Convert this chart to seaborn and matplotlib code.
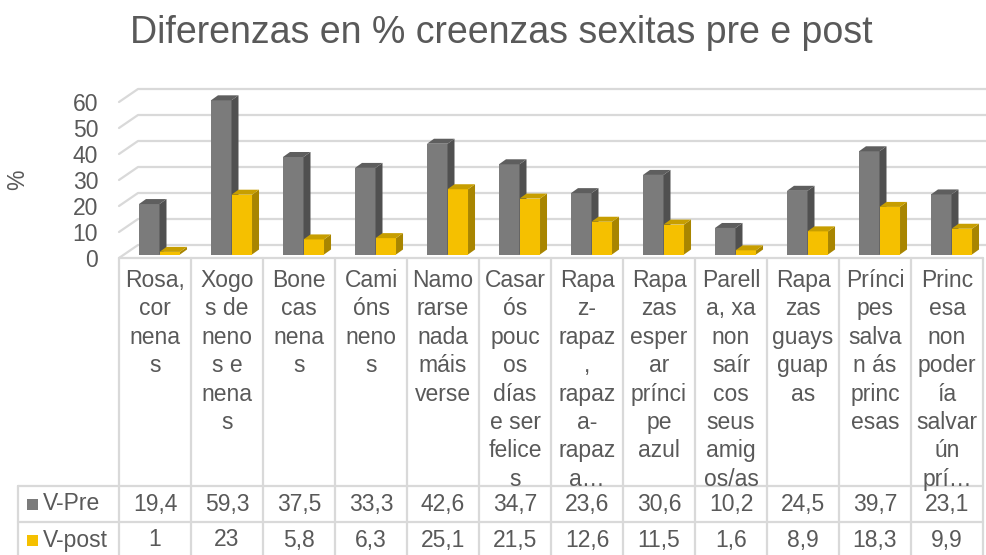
import matplotlib
matplotlib.use('Agg')
import matplotlib.pyplot as plt
from matplotlib.lines import Line2D
from matplotlib.patches import Polygon, Rectangle
from matplotlib.transforms import IdentityTransform, ScaledTranslation
import numpy as np
import pandas as pd
import seaborn as sns

# category texts, wrapped the same way as in the original data table
categorias = [
    'Rosa,\ncor\nnena\ns',
    'Xogo\ns de\nneno\ns e\nnena\ns',
    'Bone\ncas\nnena\ns',
    'Cami\nóns\nneno\ns',
    'Namo\nrarse\nnada\nmáis\nverse',
    'Casar\nós\npouc\nos\ndías\ne ser\nfelice\ns',
    'Rapa\nz-\nrapaz\n,\nrapaz\na-\nrapaz\na…',
    'Rapa\nzas\nesper\nar\nprínci\npe\nazul',
    'Parell\na, xa\nnon\nsaír\ncos\nseus\namig\nos/as',
    'Rapa\nzas\nguays\nguap\nas',
    'Prínci\npes\nsalva\nn ás\nprinc\nesas',
    'Princ\nesa\nnon\npoder\nía\nsalvar\nún\nprí…',
]
v_pre = [19.4, 59.3, 37.5, 33.3, 42.6, 34.7, 23.6, 30.6, 10.2, 24.5, 39.7, 23.1]
v_post = [1, 23, 5.8, 6.3, 25.1, 21.5, 12.6, 11.5, 1.6, 8.9, 18.3, 9.9]
series = ['V-Pre', 'V-post']
yticks = [0, 10, 20, 30, 40, 50, 60]
titulo = 'Diferenzas en % creenzas sexitas pre e post'

W, H = 986, 555
texto = '#595959'
grella = '#d9d9d9'
cores = ['#7b7b7b', '#f5c000']          # front faces
lados = ['#505050', '#a88500']          # right side faces
teitos = ['#5e5e5e', '#c79e00']         # top faces
fs = 16.5

sns.set_style('white')
plt.rcParams['font.family'] = ['Liberation Sans', 'DejaVu Sans']

df = pd.DataFrame({
    'categoria': categorias * 2,
    'valor': v_pre + v_post,
    'serie': [series[0]] * len(v_pre) + [series[1]] * len(v_post),
})

fig = plt.figure(figsize=(W / 100, H / 100), dpi=100)
ax = fig.add_axes([119 / W, (H - 258) / H, 864 / W, 156 / H])
ax.patch.set_visible(False)

sns.barplot(data=df, x='categoria', y='valor', hue='serie', order=categorias,
            hue_order=series, palette=cores, width=0.57, saturation=1,
            errorbar=None, legend=False, ax=ax)

ax.set_xlim(-0.5, len(categorias) - 0.5)
ax.set_ylim(0, 60)
ax.set_yticks(yticks)
ax.set_xticks([])
ax.set_xlabel('')
ax.set_ylabel('')
ax.tick_params(axis='y', length=0, pad=15, labelsize=fs, labelcolor=texto)
sns.despine(ax=ax, left=True, bottom=True)
fig.text(18, H - 180, '%', transform=IdentityTransform(), rotation=90,
         ha='center', va='center', fontsize=fs, color=texto)

# 3D look: back wall gridlines with a diagonal on the left
prof = np.array([19, 13])
for v in yticks:
    p0 = ax.transData.transform((-0.5, v))
    p1 = p0 + prof
    ax.add_line(Line2D([p0[0], p1[0], W], [p0[1], p1[1], p1[1]],
                       transform=IdentityTransform(), color=grella, lw=1.6,
                       clip_on=False, zorder=0.5))

# bars pushed to the middle of the depth, then side and top faces
desp = np.array([4.5, 3.5])
fondo = np.array([7, 5])
for k, cont in enumerate(ax.containers):
    for bar in cont:
        bar.set_transform(ax.transData + ScaledTranslation(desp[0] / 100, desp[1] / 100, fig.dpi_scale_trans))
        bar.set_edgecolor('none')
        bar.set_linewidth(0)
        bar.set_clip_on(False)
        bar.set_zorder(3 + k * 0.2)
        x0, y0 = bar.get_x(), bar.get_y()
        x1, y1 = x0 + bar.get_width(), y0 + bar.get_height()
        p = ax.transData.transform([(x0, y0), (x1, y0), (x1, y1), (x0, y1)]) + desp
        lado = [p[1], p[2], p[2] + fondo, p[1] + fondo]
        teito = [p[3], p[2], p[2] + fondo, p[3] + fondo]
        for verts, c in ((lado, lados[k]), (teito, teitos[k])):
            ax.add_patch(Polygon(verts, closed=True, transform=IdentityTransform(),
                                 facecolor=c, edgecolor='none', clip_on=False,
                                 zorder=3.1 + k * 0.2))

# data table under the chart
ident = IdentityTransform()
n = len(categorias)
xs = [ax.transData.transform((i - 0.5, 0))[0] for i in range(n + 1)]
xc = [ax.transData.transform((i, 0))[0] for i in range(n)]
y_cab, y_f1, y_f2, y_fin = H - 258, H - 486, H - 522, H - 560
x_lab = 18


def linha(xx, yy):
    fig.add_artist(Line2D(xx, yy, transform=ident, color=grella, lw=1.6))


linha([xs[0], xs[-1]], [y_cab, y_cab])
for yy in (y_f1, y_f2):
    linha([x_lab, xs[-1]], [yy, yy])
for x in xs:
    linha([x, x], [y_cab, y_fin])
linha([x_lab, x_lab], [y_f1, y_fin])

for i, lab in enumerate(categorias):
    fig.text(xc[i], H - 269, lab, transform=ident, ha='center', va='top',
             multialignment='center', linespacing=1.3, fontsize=fs, color=texto)

filas = [(v_pre, y_f1), (v_post, y_f2)]
for k, (vals, ytop) in enumerate(filas):
    yc = ytop - 18
    fig.add_artist(Rectangle((27, yc - 5.5), 11, 11, transform=ident,
                             facecolor=cores[k], edgecolor='none'))
    fig.text(43, yc, series[k], transform=ident, ha='left', va='center',
             fontsize=fs, color=texto)
    for i, v in enumerate(vals):
        fig.text(xc[i], yc, f'{v:g}'.replace('.', ','), transform=ident,
                 ha='center', va='center', fontsize=fs, color=texto)

fig.text(501 / W, 1 - 33 / H, titulo, ha='center', va='center',
         fontsize=27, color=texto)

fig.savefig('out.png', dpi=100)
